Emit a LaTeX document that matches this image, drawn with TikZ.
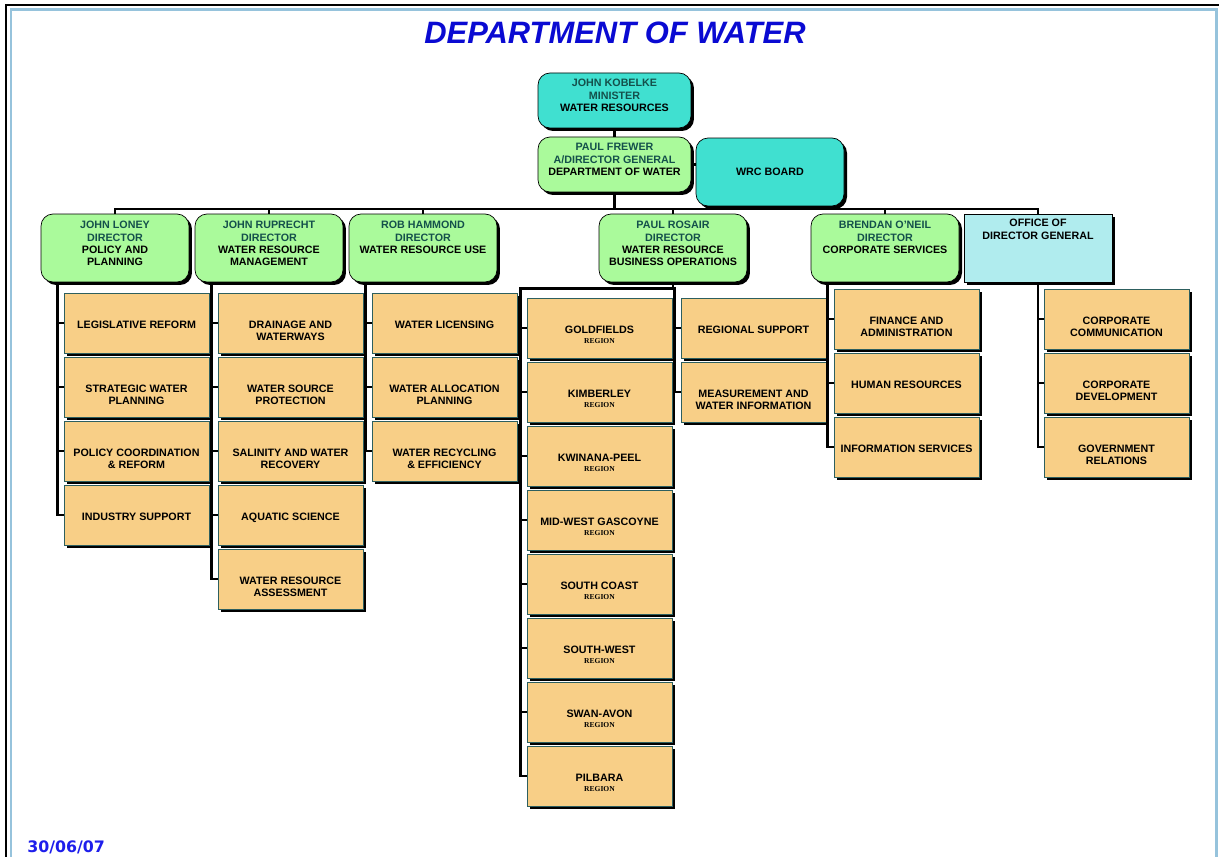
\documentclass[tikz,border=0pt]{standalone}
\usepackage{fontspec}
\setmainfont{Liberation Sans}
\newfontfamily\regfont{Liberation Serif}
\newfontfamily\datefont{DejaVu Sans}
\usepackage{tikz}
\usetikzlibrary{shadows}
\definecolor{turq}{RGB}{64,224,208}
\definecolor{dirgreen}{RGB}{170,250,155}
\definecolor{officeblue}{RGB}{176,236,238}
\definecolor{unitorange}{RGB}{248,207,135}
\definecolor{unitedge}{RGB}{45,95,95}
\definecolor{namecol}{RGB}{20,80,75}
\definecolor{frameblue}{RGB}{150,195,220}
\definecolor{titleblue}{RGB}{10,10,210}
\definecolor{dateblue}{RGB}{30,30,235}
\def\boxfont{\bfseries\fontsize{6.1}{7}\selectfont}
\def\who#1{\textcolor{namecol}{#1}}
\def\region#1{#1\\[-1.5pt]{\regfont\bfseries\fontsize{4.3}{5}\selectfont REGION}}
\tikzset{
   shadowed/.style={drop shadow={shadow xshift=0.06cm,shadow yshift=-0.06cm,opacity=1,fill=black}},
   roundbox/.style={draw,thin,rounded corners=0.24cm,shadowed,minimum width=2.96cm,minimum height=1.36cm,font=\boxfont},
   intext/.style={anchor=north,align=center,font=\boxfont,inner sep=0pt,yshift=-0.15cm},
   dirbox/.style={roundbox,fill=dirgreen,label={[intext]north:{#1}}},
   headbox/.style={roundbox,minimum width=3.06cm,minimum height=1.1cm,label={[intext,yshift=0.02cm]north:{#1}}},
   officebox/.style={draw,thin,fill=officeblue,shadowed,minimum width=2.96cm,minimum height=1.36cm,label={[intext,yshift=0.04cm]north:{#1}}},
   unit/.style={draw=unitedge,thin,fill=unitorange,shadowed,minimum width=2.9cm,minimum height=1.2cm,label={[intext,yshift=-0.41cm]north:{#1}}},
   link/.style={line width=1.4pt,black},
}
\begin{document}
\begin{tikzpicture}[x=0.02cm,y=-0.02cm]
   \useasboundingbox (0,0) rectangle (1219,857);
   % page frame
   \draw[line width=0.6pt] (6,857) -- (6,5) -- (1219,5);
   \draw[frameblue,line width=1.7pt] (11,857) -- (11,10) -- (1216,10) -- (1216,857);
   \node[font=\bfseries\itshape\fontsize{17.6}{20}\selectfont,text=titleblue] (title) at (615,33) {DEPARTMENT OF WATER};
   \node[font=\datefont\bfseries\fontsize{9}{10}\selectfont,text=dateblue,anchor=west,inner sep=0pt] (date) at (27,847) {30/06/07};

   % top of the chart
   \node[headbox={\who{JOHN KOBELKE}\\\who{MINISTER}\\WATER RESOURCES},fill=turq] (minister) at (614.5,100.5) {};
   \node[headbox={\who{PAUL FREWER}\\\who{A/DIRECTOR GENERAL}\\DEPARTMENT OF WATER},fill=dirgreen] (dg) at (614.5,164.5) {};
   \node[roundbox,fill=turq] (wrc) at (770,172) {WRC BOARD};

   % directors
   \node[dirbox={\who{JOHN LONEY}\\\who{DIRECTOR}\\POLICY AND\\PLANNING}] (loney) at (115,248) {};
   \node[dirbox={\who{JOHN RUPRECHT}\\\who{DIRECTOR}\\WATER RESOURCE\\MANAGEMENT}] (ruprecht) at (269,248) {};
   \node[dirbox={\who{ROB HAMMOND}\\\who{DIRECTOR}\\WATER RESOURCE USE}] (hammond) at (423,248) {};
   \node[dirbox={\who{PAUL ROSAIR}\\\who{DIRECTOR}\\WATER RESOURCE\\BUSINESS OPERATIONS}] (rosair) at (673,248) {};
   \node[dirbox={\who{BRENDAN O'NEIL}\\\who{DIRECTOR}\\CORPORATE SERVICES}] (oneil) at (885,248) {};
   \node[officebox={OFFICE OF\\DIRECTOR GENERAL}] (office) at (1038,248) {};

   % policy and planning
   \node[unit={LEGISLATIVE REFORM}] (legis) at (136.5,323) {};
   \node[unit={STRATEGIC WATER\\PLANNING}] (strat) at (136.5,387) {};
   \node[unit={POLICY COORDINATION\\\& REFORM}] (polco) at (136.5,451) {};
   \node[unit={INDUSTRY SUPPORT}] (indsup) at (136.5,515) {};

   % water resource management
   \node[unit={DRAINAGE AND\\WATERWAYS}] (drain) at (290.5,323) {};
   \node[unit={WATER SOURCE\\PROTECTION}] (source) at (290.5,387) {};
   \node[unit={SALINITY AND WATER\\RECOVERY}] (salin) at (290.5,451) {};
   \node[unit={AQUATIC SCIENCE}] (aqua) at (290.5,515) {};
   \node[unit={WATER RESOURCE\\ASSESSMENT}] (assess) at (290.5,579) {};

   % water resource use
   \node[unit={WATER LICENSING}] (licen) at (444.5,323) {};
   \node[unit={WATER ALLOCATION\\PLANNING}] (alloc) at (444.5,387) {};
   \node[unit={WATER RECYCLING\\\& EFFICIENCY}] (recyc) at (444.5,451) {};

   % business operations
   \node[unit={\region{GOLDFIELDS}}] (goldf) at (599.5,328) {};
   \node[unit={\region{KIMBERLEY}}] (kimb) at (599.5,392) {};
   \node[unit={\region{KWINANA-PEEL}}] (kwin) at (599.5,456) {};
   \node[unit={\region{MID-WEST GASCOYNE}}] (midw) at (599.5,520) {};
   \node[unit={\region{SOUTH COAST}}] (southc) at (599.5,584) {};
   \node[unit={\region{SOUTH-WEST}}] (southw) at (599.5,648) {};
   \node[unit={\region{SWAN-AVON}}] (swan) at (599.5,712) {};
   \node[unit={\region{PILBARA}}] (pilb) at (599.5,776) {};
   \node[unit={REGIONAL SUPPORT}] (regsup) at (753.5,328) {};
   \node[unit={MEASUREMENT AND\\WATER INFORMATION}] (measure) at (753.5,392) {};

   % corporate services
   \node[unit={FINANCE AND\\ADMINISTRATION}] (finance) at (906.5,319) {};
   \node[unit={HUMAN RESOURCES}] (human) at (906.5,383) {};
   \node[unit={INFORMATION SERVICES}] (infserv) at (906.5,447) {};

   % office of director general
   \node[unit={CORPORATE\\COMMUNICATION}] (corpcom) at (1116.5,319) {};
   \node[unit={CORPORATE\\DEVELOPMENT}] (corpdev) at (1116.5,383) {};
   \node[unit={GOVERNMENT\\RELATIONS}] (govrel) at (1116.5,447) {};

   % connectors
   \coordinate (bus) at (614.5,209);
   \draw[link] (minister) -- (dg);
   \draw[link] (dg.east) -- (dg.east -| wrc.west);
   \draw[link] (dg) -- (bus);
   \draw[link] (loney.north) |- (bus) -| (office.north);
   \foreach \d in {ruprecht,hammond,rosair,oneil}
      \draw[link] (\d.north) -- (\d.north |- bus);

   \draw[link] ([xshift=0.34cm]loney.south west) |- (indsup.west);
   \foreach \u in {legis,strat,polco}
      \draw[link] (\u.west) -- ++(-6,0);
   \draw[link] ([xshift=0.34cm]ruprecht.south west) |- (assess.west);
   \foreach \u in {drain,source,salin,aqua}
      \draw[link] (\u.west) -- ++(-6,0);
   \draw[link] ([xshift=0.34cm]hammond.south west) |- (recyc.west);
   \foreach \u in {licen,alloc}
      \draw[link] (\u.west) -- ++(-6,0);

   \draw[link] (rosair.south) -- ++(0,6) coordinate (rbus);
   \draw[link] (pilb.west) -- ++(-6,0) |- (rbus) -| ([xshift=-0.12cm]measure.west) -- (measure.west);
   \foreach \u in {goldf,kimb,kwin,midw,southc,southw,swan,regsup}
      \draw[link] (\u.west) -- ++(-6,0);

   \draw[link] ([xshift=0.34cm]oneil.south west) |- (infserv.west);
   \foreach \u in {finance,human}
      \draw[link] (\u.west) -- ++(-6,0);
   \draw[link] (office.south) |- (govrel.west);
   \foreach \u in {corpcom,corpdev}
      \draw[link] (\u.west) -- ++(-6,0);
\end{tikzpicture}
\end{document}
